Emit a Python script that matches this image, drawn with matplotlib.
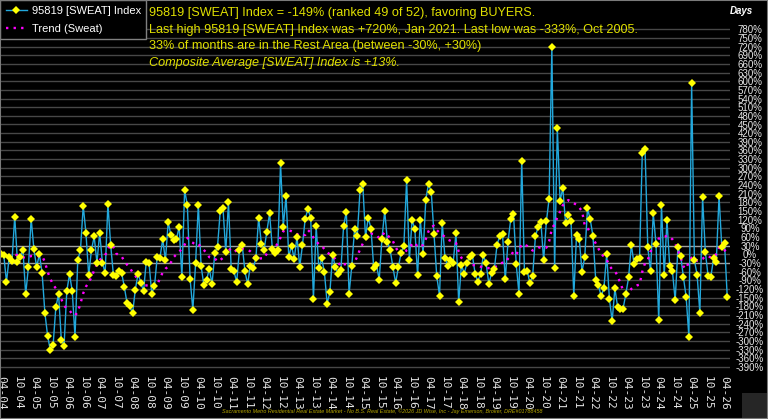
import matplotlib
matplotlib.use('Agg')
import matplotlib.pyplot as plt
from matplotlib.lines import Line2D
from matplotlib.patches import Circle, Rectangle
import numpy as np
import pandas as pd

# ---------------- data ----------------
start_month = '2004-04'
sweat = [
    0, -2, -96, -8, -24, 131, -25, -8, 16, -139,
    -44, 124, 17, -44, 0, -65, -202, -282, -333, -316,
    -184, -138, -296, -317, -128, -69, -128, -286, -21, 16,
    168, 73, -73, 15, 62, -29, 74, -29, -65, 175,
    34, -71, -76, -58, -64, -113, -170, -180, -205, -123,
    -67, -98, -128, -25, -29, -136, -110, -9, -12, 52,
    -21, 112, 66, 49, 52, 96, -80, 222, 170, -86,
    -192, -31, 172, -39, -106, -90, -50, -103, 3, 27,
    150, 160, 9, 180, -52, -59, -96, 16, 34, -59,
    -103, -39, -49, -14, 127, 36, 16, 79, 142, 20,
    6, 15, 315, 96, 202, -10, 30, -16, 61, -43,
    32, 124, 156, 127, -154, 97, -49, -14, -61, -171,
    -131, -2, -45, -68, -55, 98, 148, -137, -40, 87,
    64, 222, 244, 59, 127, 89, -47, -37, -88, 54,
    150, 44, 15, -44, -99, -44, 6, 29, 257, -19,
    118, 88, -73, 120, 1, 190, 245, 215, 72, -76,
    -143, 110, -12, -39, -20, -29, 73, -166, -36, -67,
    -31, -9, -4, -67, -95, -67, -4, -31, -102, -66,
    -52, 33, 64, 69, -87, 44, 122, 141, -35, -137,
    325, -60, -57, -101, -74, 62, 96, 111, -21, 114,
    193, 720, -48, 437, 185, 230, 108, 136, 114, -144,
    67, 52, -60, -10, 159, 121, 63, -89, -108, -146,
    -116, 0, -155, -231, -118, -183, -191, -188, -137, -80,
    33, -34, -17, -12, 352, 364, 24, -58, 142, 35,
    -229, 171, -73, 119, -41, -58, -160, 24, -5, -79,
    -148, -286, 593, -20, -71, -203, 197, 8, -74, -79,
    -14, -25, 202, 26, 40, -149,
]
trend = [
    0, -2, -5, -8, -4, -1, -3, -6, -10, -13,
    -9, -6, -6, -6, -6, -6, -26, -60, -85, -105,
    -118, -125, -155, -178, -188, -194, -208, -212, -200, -170,
    -135, -112, -97, -80, -55, -34, -20, -10, -3, 17,
    35, 24, 3, -3, -7, -24, -36, -46, -63, -74,
    -90, -100, -109, -108, -107, -108, -109, -106, -83, -63,
    -50, -43, -28, -10, 0, 8, 20, 33, 57, 45,
    40, 33, 36, 25, 15, 5, -10, -13, -14, -25,
    -20, -12, 9, 22, 10, 7, 15, 18, 20, 17,
    16, 10, 0, -16, -15, -14, -14, 3, 14, 17,
    22, 40, 58, 80, 83, 83, 80, 76, 70, 65,
    66, 67, 84, 75, 58, 45, 35, 30, 18, 8,
    -1, -8, -16, -27, -42, -35, -34, -36, -37, -30,
    -6, 17, 37, 50, 62, 72, 70, 66, 56, 65,
    76, 67, 55, 46, 24, 9, 2, -4, 15, 22,
    35, 41, 25, 28, 32, 53, 80, 95, 99, 84,
    75, 68, 60, 51, 47, 43, 40, 10, -12, -25,
    -32, -35, -37, -38, -40, -43, -45, -47, -48, -48,
    -45, -41, -33, -29, -29, -15, -5, 10, 0, 15,
    35, 33, 29, 20, 13, 18, 23, 24, 24, 23,
    45, 88, 105, 128, 148, 170, 180, 188, 182, 177,
    172, 162, 150, 100, 93, 72, 55, 38, 20, 0,
    -7, -18, -40, -52, -58, -75, -100, -125, -137, -130,
    -120, -113, -108, -105, -60, -30, -20, 10, 22, 32,
    55, 58, 59, 65, 60, 52, 38, 13, -10, -42,
    -50, -25, -12, -9, -23, -20, -16, -6, -8, -10,
    -12, 2, 23, 42, 15, 2,
]
y_ticks = list(range(-390, 781, 30))

months = pd.date_range(start_month, periods=len(sweat), freq='MS')
tick_idx = [i for i, d in enumerate(months) if d.month in (4, 10)]
tick_labels = [months[i].strftime('%m-%y') for i in tick_idx]

# ---------------- figure ----------------
W, H = 768, 419
fig = plt.figure(figsize=(W / 100, H / 100), dpi=100, facecolor='black')
ax_bottom_px = 369.7
ax_top_px = 1.9
ax = fig.add_axes([0, (H - ax_bottom_px) / H, 730 / W, (ax_bottom_px - ax_top_px) / H],
                  facecolor='black')
x = np.arange(len(sweat))
ax.set_xlim(-0.37, 266)
ax.set_ylim(-400, 875)

for v in y_ticks:
    if abs(v) == 30:
        ax.axhline(v, color='#a0a0a0', lw=1.0, zorder=1)
    else:
        ax.axhline(v, color='#474747', lw=1.0, zorder=1)

ax.plot(x, sweat, color='#22a8dc', lw=1.0, zorder=3)
ax.plot(x, trend, color='#ff00ff', lw=1.7, linestyle=(0, (1, 2.2)), zorder=4)
ax.plot(x, sweat, linestyle='none', marker='D', ms=3.6, mfc='#ffff00',
        mec='#ffff00', mew=0, zorder=5)

for s in ax.spines.values():
    s.set_visible(False)

ax.set_xticks(tick_idx)
ax.set_xticklabels(tick_labels, rotation=-90, fontfamily='DejaVu Sans Mono',
                   fontsize=8, color='#e6e6e6')
ax.tick_params(axis='x', length=0, pad=4.5)

ax.yaxis.tick_right()
ax.set_yticks(y_ticks)
ax.set_yticklabels([f'{v}%' for v in y_ticks], fontsize=7, color='#e6e6e6',
                   fontfamily='Liberation Sans')
ax.tick_params(axis='y', length=0, pad=14.4)
for lab in ax.get_yticklabels():
    lab.set_ha('center')

# ---------------- texts ----------------
def fx(px):
    return px / W

def fy(py):
    return 1 - py / H

fig.text(fx(741), fy(11), 'Days', color='white', fontsize=7, fontweight='bold',
         fontstyle='italic', ha='center', va='center', fontfamily='Liberation Sans')

yellow = '#e0e000'
ann = [
    ('95819 [SWEAT] Index = -149% (ranked 49 of 52), favoring BUYERS.', 13, 'normal'),
    ('Last high 95819 [SWEAT] Index was +720%, Jan 2021. Last low was -333%, Oct 2005.', 29.5, 'normal'),
    ('33% of months are in the Rest Area (between -30%, +30%)', 46.5, 'normal'),
    ('Composite Average [SWEAT] Index is +13%.', 63, 'italic'),
]
for txt, py, st in ann:
    fig.text(fx(149), fy(py), txt, color=yellow, fontsize=9.1, fontstyle=st,
             ha='left', va='center', fontfamily='Liberation Sans')

fig.text(fx(222), fy(411),
         'Sacramento Metro Residential Real Estate Market - No B.S. Real Estate, \u00a92026 JD Wise, Inc - Jay Emerson, Broker, DRE#01788458',
         color='#b8a800', fontsize=3.9, fontstyle='italic', ha='left', va='center',
         fontfamily='Liberation Sans')

# legend
handles = [
    Line2D([], [], color='#22a8dc', lw=1.0, marker='D', ms=3.6, mfc='#ffff00',
           mec='#ffff00', mew=0),
    Line2D([], [], color='#ff00ff', lw=1.7, linestyle=(0, (1, 2.2))),
]
leg = ax.legend(handles, ['95819 [SWEAT] Index', 'Trend (Sweat)'], loc='upper left',
                bbox_to_anchor=(0, 1), bbox_transform=fig.transFigure,
                borderaxespad=0, frameon=True, fancybox=False, facecolor='black',
                edgecolor='#808080', framealpha=1, handlelength=1.9,
                handletextpad=0.45, borderpad=0.5, labelspacing=0.72,
                prop={'family': 'Liberation Sans', 'size': 8})
for t in leg.get_texts():
    t.set_color('white')
leg.set_zorder(10)

# logo
fig.patches.append(Rectangle((fx(742), fy(419)), fx(26), 26 / H, transform=fig.transFigure,
                             facecolor='#262626', edgecolor='none'))
logo_ax = fig.add_axes([fx(742), fy(419), fx(25), 25 / H])
logo_ax.set_xlim(-1, 1)
logo_ax.set_ylim(-1, 1)
logo_ax.set_aspect('equal')
logo_ax.axis('off')
logo_ax.add_patch(Circle((0, 0), 0.92, facecolor='#f2e200', edgecolor='black', lw=0.8))
logo_ax.text(0, 0, 'E', fontsize=11, fontweight='bold', color='black', rotation=30,
             ha='center', va='center', fontfamily='DejaVu Sans')

# outer border
fig.patches.append(Rectangle((0, 0), 1, 1, transform=fig.transFigure, fill=False,
                             edgecolor='#7a7a7a', lw=1.5))

fig.savefig('out.png', dpi=100, facecolor='black')
